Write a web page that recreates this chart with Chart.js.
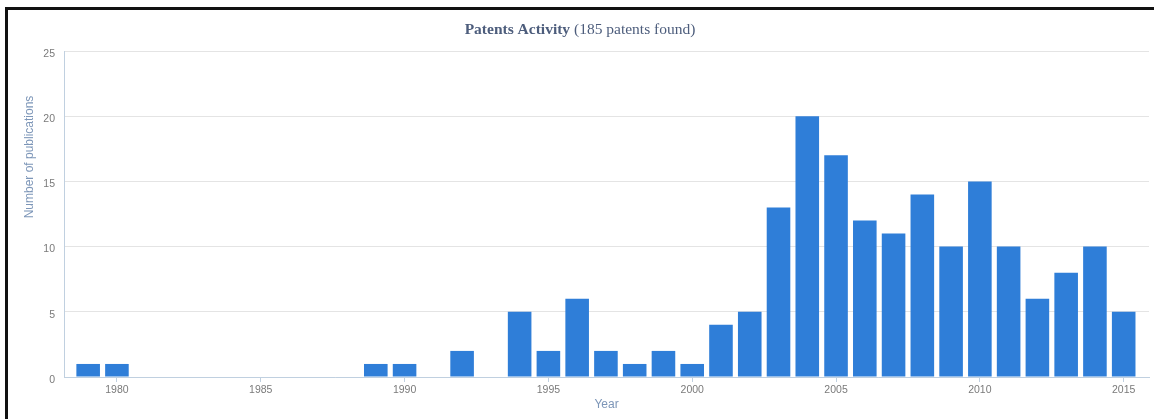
<!DOCTYPE html>
<html>
<head>
<meta charset="utf-8">
<script src="https://cdn.jsdelivr.net/npm/chart.js@4.4.1/dist/chart.umd.min.js"></script>
<style>
  html, body { margin: 0; padding: 0; background: #fff; }
  #wrap { position: relative; width: 1154px; height: 419px; overflow: hidden; }
  #frame { position: absolute; left: 5px; top: 7px; width: 1200px; height: 500px;
           border-left: 3px solid #111; border-top: 3px solid #111; pointer-events: none; }
  canvas { position: absolute; left: 0; top: 0; }
</style>
</head>
<body>
<div id="wrap">
  <canvas id="patents" width="1154" height="419"></canvas>
  <div id="frame"></div>
</div>
<script>
const years = [1979, 1980, 1981, 1982, 1983, 1984, 1985, 1986, 1987, 1988, 1989, 1990,
  1991, 1992, 1993, 1994, 1995, 1996, 1997, 1998, 1999, 2000, 2001, 2002, 2003, 2004,
  2005, 2006, 2007, 2008, 2009, 2010, 2011, 2012, 2013, 2014, 2015]
const counts = [1, 1, 0, 0, 0, 0, 0, 0, 0, 0, 1, 1,
  0, 2, 0, 5, 2, 6, 2, 1, 2, 1, 4, 5, 13, 20,
  17, 12, 11, 14, 10, 15, 10, 6, 8, 10, 5]
const xTicks = [1980, 1985, 1990, 1995, 2000, 2005, 2010, 2015]
const yTicks = [0, 5, 10, 15, 20, 25]

const titleBold = 'Patents Activity'
const titleRest = ' (185 patents found)'
const yTitle = 'Number of publications'
const xTitle = 'Year'

const barColor = '#2f7ed8'
const axisColor = '#c0d0e0'
const gridColor = '#e4e4e4'
const labelColor = '#7a7a7a'
const titleColor = '#4d5d7c'
const axisTitleColor = '#7d96b8'

// titles drawn by hand: main title has bold + normal parts
const titlesPlugin = {
  id: 'titles',
  afterDraw(chart) {
    const ctx = chart.ctx
    const area = chart.chartArea
    ctx.save()
    ctx.fillStyle = titleColor
    ctx.textBaseline = 'middle'
    const boldFont = 'bold 15.5px "Liberation Serif", "Times New Roman", serif'
    const normFont = '15.5px "Liberation Serif", "Times New Roman", serif'
    ctx.font = boldFont
    const w1 = ctx.measureText(titleBold).width
    ctx.font = normFont
    const w2 = ctx.measureText(titleRest).width
    let x = chart.width / 2 + 3 - (w1 + w2) / 2
    ctx.textAlign = 'left'
    ctx.font = boldFont
    ctx.fillText(titleBold, x, 30)
    ctx.font = normFont
    ctx.fillText(titleRest, x + w1, 30)

    ctx.fillStyle = axisTitleColor
    ctx.font = '12px "Liberation Sans", Arial, sans-serif'
    ctx.textAlign = 'center'
    ctx.fillText(xTitle, (area.left + area.right) / 2, 405)

    ctx.translate(30, 157)
    ctx.rotate(-Math.PI / 2)
    ctx.fillText(yTitle, 0, 0)
    ctx.restore()
  }
}

new Chart(document.getElementById('patents'), {
  type: 'bar',
  data: {
    datasets: [{
      label: 'Patents',
      data: years.map((y, i) => ({ x: y, y: counts[i] })),
      backgroundColor: barColor,
      borderWidth: 0,
      barPercentage: 0.82,
      categoryPercentage: 1
    }]
  },
  options: {
    responsive: false,
    animation: false,
    layout: { padding: { top: 51, right: 5, left: 0, bottom: 0 } },
    plugins: { legend: { display: false }, tooltip: { enabled: false }, title: { display: false } },
    scales: {
      x: {
        type: 'linear',
        min: 1978.16,
        max: 2015.88,
        offset: false,
        afterBuildTicks: s => { s.ticks = xTicks.map(v => ({ value: v })) },
        afterFit: s => { s.height = 42 },
        grid: { offset: false, drawOnChartArea: false, drawTicks: true, tickLength: 5, color: axisColor },
        border: { display: true, color: axisColor },
        ticks: {
          padding: 2,
          color: labelColor,
          font: { family: '"Liberation Sans", Arial, sans-serif', size: 10.5 },
          callback: v => String(v),
          maxRotation: 0
        }
      },
      y: {
        min: 0,
        max: 25,
        afterBuildTicks: s => { s.ticks = yTicks.map(v => ({ value: v })) },
        afterFit: s => { s.width = 64 },
        grid: { color: gridColor, drawTicks: false },
        border: { display: true, color: axisColor },
        ticks: {
          padding: 9,
          labelOffset: 3,
          color: labelColor,
          font: { family: '"Liberation Sans", Arial, sans-serif', size: 10.5 }
        }
      }
    }
  },
  plugins: [titlesPlugin]
})
</script>
</body>
</html>
